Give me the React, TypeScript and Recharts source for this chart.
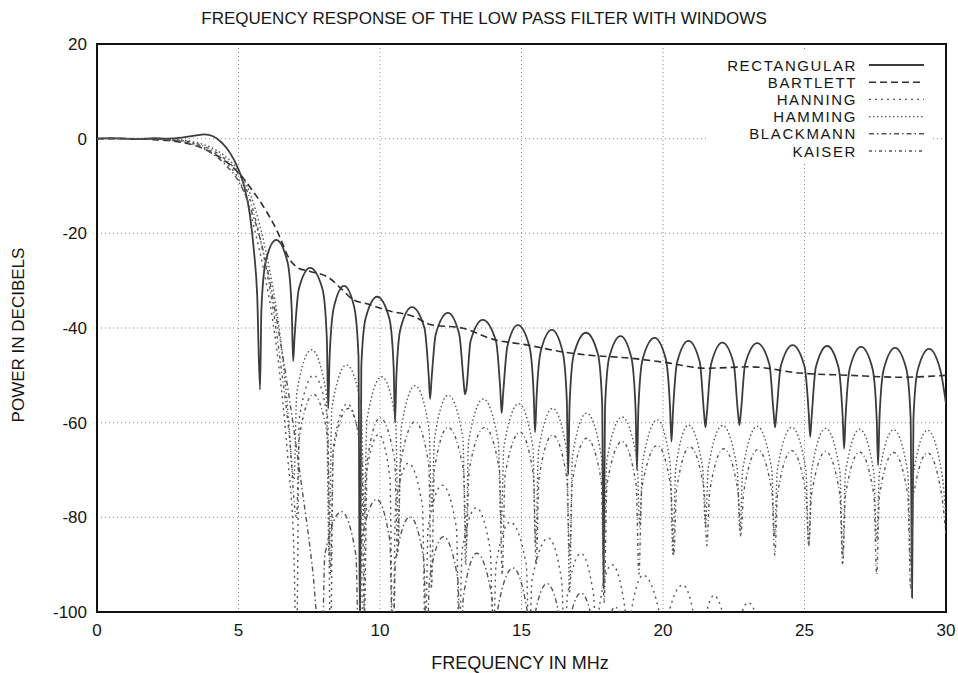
import { CartesianGrid, Line, LineChart, ReferenceArea, XAxis, YAxis } from "recharts";

type Pt = [number, number];

// frequency (MHz), power (dB)
const freqTicks = [0, 5, 10, 15, 20, 25, 30];
const dbTicks = [-100, -80, -60, -40, -20, 0, 20];

const rectangular: Pt[] = [
  [0, 0], [0.5, 0.1], [1, 0], [1.5, -0.1], [2, 0.1], [2.5, 0], [3, 0.2], [3.5, 0.7], [3.8, 0.9],
  [4.1, 0.5], [4.4, -0.8], [4.7, -3], [5, -6.5], [5.2, -10], [5.4, -16], [5.55, -24], [5.66, -33], [5.76, -53],
  [5.81, -36], [5.96, -26], [6.33, -21.4], [6.73, -26], [6.88, -36], [6.93, -47],
  [6.98, -42], [7.13, -31.8], [7.53, -27.3], [7.97, -31.8], [8.12, -42], [8.17, -57],
  [8.22, -46], [8.37, -35.6], [8.73, -31.1], [9.09, -35.6], [9.24, -46], [9.29, -105],
  [9.34, -48], [9.49, -38], [9.9, -33.4], [10.33, -38], [10.48, -48], [10.53, -60],
  [10.58, -50], [10.73, -40], [11.13, -35.6], [11.57, -40], [11.72, -50], [11.77, -55],
  [11.82, -51], [11.97, -41.3], [12.4, -36.8], [12.8, -41.3], [12.95, -51], [13.0, -54],
  [13.05, -53], [13.2, -42.8], [13.63, -38.3], [14.1, -42.8], [14.25, -53], [14.3, -58],
  [14.35, -54], [14.5, -43.9], [14.87, -39.4], [15.28, -43.9], [15.43, -54], [15.48, -62],
  [15.53, -55], [15.68, -44.9], [16.07, -40.4], [16.45, -44.9], [16.6, -55], [16.65, -71],
  [16.7, -56], [16.85, -45.5], [17.28, -41], [17.7, -45.5], [17.85, -56], [17.9, -95],
  [17.95, -57], [18.1, -46.2], [18.5, -41.7], [18.88, -46.2], [19.03, -57], [19.08, -70],
  [19.13, -57], [19.28, -46.6], [19.7, -42.1], [20.1, -46.6], [20.25, -57], [20.3, -64],
  [20.35, -58], [20.5, -47.2], [20.9, -42.7], [21.3, -47.2], [21.45, -58], [21.5, -61],
  [21.55, -58], [21.7, -47.6], [22.1, -43.1], [22.5, -47.6], [22.65, -58], [22.7, -60.5],
  [22.75, -58], [22.9, -47.7], [23.33, -43.2], [23.76, -47.7], [23.91, -58], [23.96, -61],
  [24.01, -58], [24.16, -48.1], [24.58, -43.6], [25.0, -48.1], [25.15, -58], [25.2, -63],
  [25.25, -59], [25.4, -48.3], [25.8, -43.8], [26.2, -48.3], [26.35, -59], [26.4, -65.5],
  [26.45, -59], [26.6, -48.5], [27.0, -44], [27.4, -48.5], [27.55, -59], [27.6, -69],
  [27.65, -59], [27.8, -48.7], [28.2, -44.2], [28.6, -48.7], [28.75, -59], [28.8, -97],
  [28.85, -59], [29.0, -48.9], [29.4, -44.4], [29.8, -48.9], [30, -56],
];

const bartlett: Pt[] = [
  [0, 0], [1, 0], [2, -0.2], [3, -0.8], [3.5, -1.5], [4, -2.8], [4.5, -4.6], [5, -7.2], [5.5, -11],
  [6, -15.5], [6.35, -19.3], [6.82, -25.6], [7.1, -27.3], [7.5, -28], [8.2, -29.4], [8.6, -31.5],
  [9.05, -34], [9.6, -35], [10.2, -36.2], [11.2, -37.6], [11.8, -39.3], [12.9, -40], [14, -42.4],
  [15.2, -43.6], [16.4, -45], [17.5, -45.8], [18.7, -46.3], [20, -47.2], [21.5, -48.5], [23.1, -48.2],
  [24.8, -49.5], [26.6, -50], [28.4, -50.4], [30, -50],
];

const hanning: Pt[] = [
  [0, 0], [1, 0], [2, -0.1], [3, -0.5], [3.5, -1.2], [4, -2.5], [4.5, -4.8], [5, -8.5], [5.3, -13],
  [5.6, -20], [5.9, -28], [6.2, -38], [6.5, -52], [6.75, -68], [6.95, -86], [7.05, -108],
  [7.15, -59], [7.65, -50], [8.15, -59], [8.25, -108],
  [8.35, -65], [8.85, -56], [9.3, -65], [9.4, -108],
  [9.5, -71.5], [9.95, -62.5], [10.35, -71.5], [10.45, -108],
  [10.55, -77.6], [11.0, -68.6], [11.5, -77.6], [11.6, -108],
  [11.7, -82.2], [12.2, -73.2], [12.7, -82.2], [12.8, -108],
  [12.9, -87], [13.4, -78], [13.9, -87], [14.0, -108],
  [14.1, -90], [14.6, -81], [15.17, -90], [15.27, -108],
  [15.37, -93.4], [15.95, -84.4], [16.42, -93.4], [16.52, -108],
  [16.62, -96.6], [17.1, -87.6], [17.55, -96.6], [17.65, -108],
  [17.75, -99], [18.2, -90], [18.65, -99], [18.75, -108],
  [18.85, -101], [19.3, -92.2], [19.9, -101], [20.0, -108],
  [20.1, -103], [20.7, -94.3], [21.15, -103], [21.25, -108],
  [21.35, -105], [21.8, -96.5], [22.3, -105], [22.4, -108],
  [22.5, -106], [23.0, -98], [23.5, -106], [23.6, -110],
  [24.2, -102], [24.8, -112],
];

const hamming: Pt[] = [
  [0, 0], [1, 0.05], [2, 0], [3, -0.3], [3.5, -0.8], [4, -1.8], [4.5, -3.6], [5, -6.8], [5.3, -10],
  [5.6, -15], [5.9, -22], [6.2, -31], [6.5, -43], [6.75, -58], [6.96, -72],
  [7.06, -53.6], [7.58, -44.6], [8.1, -53.6], [8.2, -88],
  [8.3, -56.8], [8.82, -47.8], [9.34, -56.8], [9.44, -80],
  [9.54, -59.3], [10.06, -50.3], [10.55, -59.3], [10.65, -84],
  [10.75, -61.2], [11.24, -52.2], [11.73, -61.2], [11.83, -78],
  [11.93, -63.2], [12.41, -54.2], [12.93, -63.2], [13.03, -90],
  [13.13, -64], [13.65, -55], [14.18, -64], [14.28, -82],
  [14.38, -65], [14.9, -56], [15.4, -65], [15.5, -86],
  [15.6, -66], [16.1, -57], [16.6, -66], [16.7, -96],
  [16.8, -67], [17.3, -58], [17.82, -67], [17.92, -84],
  [18.02, -67.8], [18.55, -58.8], [19.08, -67.8], [19.18, -82],
  [19.28, -68.4], [19.8, -59.4], [20.25, -68.4], [20.35, -88],
  [20.45, -69.5], [20.9, -60.5], [21.4, -69.5], [21.5, -82],
  [21.6, -69.6], [22.1, -60.6], [22.62, -69.6], [22.72, -83],
  [22.82, -69.8], [23.33, -60.8], [23.84, -69.8], [23.94, -84],
  [24.04, -70], [24.55, -61], [25.05, -70], [25.15, -86],
  [25.25, -70.2], [25.75, -61.2], [26.25, -70.2], [26.35, -88],
  [26.45, -70.4], [26.95, -61.4], [27.45, -70.4], [27.55, -85],
  [27.65, -70.5], [28.15, -61.5], [28.65, -70.5], [28.75, -90],
  [28.85, -70.6], [29.35, -61.6], [29.85, -70.6], [30, -80],
];

const blackmann: Pt[] = [
  [0, 0], [1, 0], [2, -0.1], [3, -0.6], [3.5, -1.4], [4, -2.9], [4.5, -5.3], [5, -9], [5.5, -16],
  [6, -27], [6.4, -40], [6.8, -55], [7.2, -72], [7.6, -90], [7.95, -110],
  [8.05, -88], [8.64, -78.8], [9.15, -88], [9.25, -110],
  [9.35, -85], [9.88, -76.2], [10.35, -85], [10.45, -110],
  [10.55, -89], [11.06, -79.9], [11.55, -89], [11.65, -110],
  [11.75, -93], [12.24, -84.1], [12.75, -93], [12.85, -110],
  [12.95, -96.6], [13.42, -87.6], [13.95, -96.6], [14.05, -110],
  [14.15, -99.7], [14.7, -90.7], [15.2, -99.7], [15.3, -110],
  [15.4, -103], [15.9, -94], [16.4, -103], [16.5, -110],
  [16.6, -105], [17.1, -96], [17.6, -105], [17.7, -110],
  [17.8, -108], [18.3, -99], [18.8, -108], [18.9, -115],
];

const kaiser: Pt[] = [
  [0, 0], [1, 0], [2, -0.1], [3, -0.4], [3.5, -1], [4, -2.2], [4.5, -4.2], [5, -7.5], [5.3, -11],
  [5.6, -17], [5.9, -25], [6.2, -35], [6.5, -48], [6.8, -63], [7.05, -80],
  [7.15, -63], [7.65, -54], [8.15, -63], [8.25, -92],
  [8.35, -66], [8.88, -57], [9.35, -66], [9.45, -100],
  [9.55, -68], [10.0, -59], [10.52, -68], [10.62, -88],
  [10.72, -68.8], [11.24, -59.8], [11.72, -68.8], [11.82, -95],
  [11.92, -70], [12.4, -61], [12.95, -70], [13.05, -86],
  [13.15, -70], [13.7, -61], [14.22, -70], [14.32, -92],
  [14.42, -71], [14.95, -62], [15.42, -71], [15.52, -90],
  [15.62, -71.6], [16.1, -62.6], [16.6, -71.6], [16.7, -88],
  [16.8, -72.3], [17.3, -63.3], [17.82, -72.3], [17.92, -98],
  [18.02, -73], [18.55, -64], [19.05, -73], [19.15, -92],
  [19.25, -73.8], [19.8, -64.8], [20.28, -73.8], [20.38, -88],
  [20.48, -74.1], [20.95, -65.1], [21.45, -74.1], [21.55, -86],
  [21.65, -74.5], [22.15, -65.5], [22.65, -74.5], [22.75, -84],
  [22.85, -74.7], [23.35, -65.7], [23.85, -74.7], [23.95, -88],
  [24.05, -74.9], [24.55, -65.9], [25.05, -74.9], [25.15, -86],
  [25.25, -75.1], [25.75, -66.1], [26.25, -75.1], [26.35, -90],
  [26.45, -75.2], [26.95, -66.2], [27.45, -75.2], [27.55, -92],
  [27.65, -75.3], [28.15, -66.3], [28.65, -75.3], [28.75, -95],
  [28.85, -75.4], [29.35, -66.4], [29.85, -75.4], [30, -84],
];

const toRows = (pts: Pt[]) => pts.map(([f, db]) => ({ f, db }));

const series = [
  { name: "RECTANGULAR", pts: rectangular, stroke: "#3c3c3c", width: 1.8, dash: undefined },
  { name: "BARTLETT", pts: bartlett, stroke: "#2e2e2e", width: 1.6, dash: "7 4" },
  { name: "HANNING", pts: hanning, stroke: "#555", width: 1.4, dash: "2 4" },
  { name: "HAMMING", pts: hamming, stroke: "#555", width: 1.4, dash: "1.5 2.5" },
  { name: "BLACKMANN", pts: blackmann, stroke: "#555", width: 1.4, dash: "5 3 1.5 3" },
  { name: "KAISER", pts: kaiser, stroke: "#555", width: 1.4, dash: "3 3 1 3" },
];

const font = "'Liberation Sans', Arial, sans-serif";
const ink = "#161616";

export default function App() {
  return (
    <div style={{ position: "absolute", left: 0, top: 0, width: 958, height: 673, background: "#fff", fontFamily: font }}>
      <LineChart width={958} height={673} margin={{ top: 44, right: 12, bottom: 0, left: 0 }}>
        <CartesianGrid stroke="#8a8a8a" strokeDasharray="1 3" />
        <XAxis
          allowDataOverflow
          axisLine={false}
          dataKey="f"
          domain={[0, 30]}
          height={61}
          tick={{ fill: ink, fontSize: 17, fontFamily: font }}
          tickLine={false}
          tickMargin={6}
          ticks={freqTicks}
          type="number"
        />
        <YAxis
          allowDataOverflow
          axisLine={false}
          domain={[-100, 20]}
          tick={{ fill: ink, fontSize: 17, fontFamily: font }}
          tickLine={false}
          tickMargin={4}
          ticks={dbTicks}
          type="number"
          width={97}
        />
        {series.map((s) => (
          <Line
            key={s.name}
            activeDot={false}
            data={toRows(s.pts)}
            dataKey="db"
            dot={false}
            isAnimationActive={false}
            stroke={s.stroke}
            strokeDasharray={s.dash}
            strokeWidth={s.width}
            type="monotone"
          />
        ))}
        <ReferenceArea x1={0} x2={30} y1={-100} y2={20} fill="none" stroke="#111" strokeWidth={2} />
      </LineChart>
      <svg width={958} height={673} style={{ position: "absolute", left: 0, top: 0, pointerEvents: "none" }}>
        <g fill={ink} fontFamily={font}>
          <text x={484} y={24} textAnchor="middle" fontSize={17}>
            FREQUENCY RESPONSE OF THE LOW PASS FILTER WITH WINDOWS
          </text>
          <text transform="translate(24,335) rotate(-90)" textAnchor="middle" fontSize={17}>
            POWER IN DECIBELS
          </text>
          <text x={520} y={669} textAnchor="middle" fontSize={18}>
            FREQUENCY IN MHz
          </text>
        </g>
        <rect x={708} y={52} width={222} height={112} fill="#fff" />
        {series.map((s, i) => {
          const cy = 65 + i * 17.2;
          return (
            <g key={s.name}>
              <text
                x={857}
                y={cy + 5.5}
                textAnchor="end"
                fontSize={15}
                letterSpacing={1.6}
                fill={ink}
                fontFamily={font}
              >
                {s.name}
              </text>
              <line x1={869} x2={924} y1={cy} y2={cy} stroke={s.stroke} strokeWidth={s.width} strokeDasharray={s.dash} />
            </g>
          );
        })}
      </svg>
    </div>
  );
}
